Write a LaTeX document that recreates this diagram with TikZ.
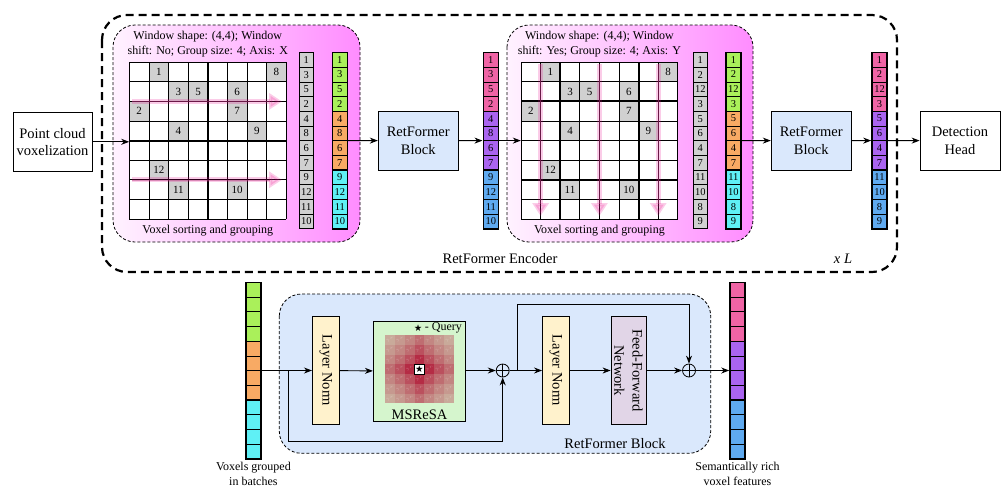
\documentclass[tikz,border=0pt]{standalone}
\usepackage{amssymb}
\usepackage{fontspec}
\setmainfont{Liberation Serif}
\usetikzlibrary{arrows.meta}
\usetikzlibrary{calc}

\definecolor{vgreen}{RGB}{170,240,90}
\definecolor{vorange}{RGB}{248,170,100}
\definecolor{vcyan}{RGB}{95,240,245}
\definecolor{fpink}{RGB}{240,100,165}
\definecolor{fpurple}{RGB}{170,100,240}
\definecolor{fblue}{RGB}{95,170,240}
\definecolor{vgray}{RGB}{208,208,208}
\definecolor{blkblue}{RGB}{218,232,252}
\definecolor{lnyellow}{RGB}{255,242,204}
\definecolor{ffnpurple}{RGB}{225,213,231}
\definecolor{attgreen}{RGB}{213,245,205}
\definecolor{attred}{RGB}{175,0,40}

\newcommand{\fntbig}{\fontsize{14.5}{17.5}\selectfont}
\newcommand{\fntmid}{\fontsize{12}{15.5}\selectfont}
\newcommand{\fntnum}{\fontsize{10.5}{10.5}\selectfont}

% stack of batched voxel features: name, centre x, top y, colours, numbers
\newcommand{\featstack}[5]{%
	\foreach \n [count=\i from 0] in {#5} {
		\pgfmathtruncatemacro\gi{\i/4}
		\pgfmathparse{{#4}[\gi]}\let\cellcol\pgfmathresult
		\node[stackcell, fill=\cellcol] (#1-\i) at (#2,#3+7.35+14.7*\i) {\n};
	}
	\node[stackframe] (#1) at (#2,#3+88.2) {};
	\draw[line width=1.6pt] (#1-3.south west) -- (#1-3.south east);
	\draw[line width=1.6pt] (#1-7.south west) -- (#1-7.south east);
}

\begin{document}
\begin{tikzpicture}[x=1pt, y=-1pt,
	>={Stealth[length=8pt,width=6pt]},
	every node/.style={font=\fntbig},
	flow/.style={->, line width=0.9pt},
	box/.style={draw, line width=0.8pt, minimum width=80, minimum height=59, align=center, inner sep=2},
	stackcell/.style={draw, line width=0.5pt, minimum width=15, minimum height=14.7, inner sep=0, font=\fntnum},
	stackframe/.style={draw, line width=1.6pt, minimum width=15, minimum height=176.4, inner sep=0},
	graycell/.style={draw, line width=0.5pt, fill=vgray, minimum width=14, minimum height=14.67, inner sep=0, font=\fntnum},
	voxcell/.style={fill=vgray, minimum size=19.6, inner sep=0, font=\fontsize{11}{11}\selectfont},
	gridline/.style={line width=0.7pt},
	winline/.style={line width=2pt},
	panel/.style={draw, dash pattern=on 3pt off 2pt, line width=0.8pt, rounded corners=22, left color=magenta!5, right color=magenta!45},
	sortband/.style={draw=magenta, line width=5pt, opacity=0.2, -{Triangle[length=13pt,width=16pt]}},
	sortline/.style={draw=magenta!70!black, line width=0.6pt, opacity=0.45},
	normbox/.style={draw, line width=0.8pt, rotate=-90, minimum width=108.4, minimum height=26.7, inner sep=0, align=center},
	hcell/.style={fill=attred, minimum width=9.86, minimum height=9.76, inner sep=0, text=white, text opacity=0.35, font=\fontsize{5}{5}\selectfont},
	oplus/.style={draw, circle, line width=0.8pt, minimum size=13, inner sep=0,
		path picture={\draw[line width=0.8pt] (path picture bounding box.north) -- (path picture bounding box.south)
			(path picture bounding box.west) -- (path picture bounding box.east);}}
	]
	\useasboundingbox (0,0) rectangle (1006,491);

	% encoder frame
	\draw[line width=2.2pt, dash pattern=on 8pt off 5pt, rounded corners=25] (102,15) rectangle (897,272);
	\node (enclbl) at (500,259) {RetFormer Encoder};
	\node (xl) at (843,259) {\textit{x L}};

	% sorting panels
	\path[panel] (113,25) rectangle (360,242);
	\path[panel] (507,25) rectangle (753,242);

	\foreach \gx/\gn in {129.4/grid1, 521.0/grid2} {
		\node[fill=white, minimum size=156.8, inner sep=0] (\gn) at (\gx+78.4,140.6) {};
		\foreach \cx/\cy/\n in {2/1/1, 8/1/8, 3/2/3, 4/2/5, 6/2/6, 1/3/2, 6/3/7, 3/4/4, 7/4/9, 2/6/12, 3/7/11, 6/7/10}
			\node[voxcell] (\gn-v\n) at (\gx+19.6*\cx-9.8, 62.2+19.6*\cy-9.8) {\n};
		\foreach \k in {0,...,8} {
			\draw[gridline] (\gx+19.6*\k,62.2) -- ++(0,156.8);
			\draw[gridline] (\gx,62.2+19.6*\k) -- ++(156.8,0);
		}
	}
	\draw[winline] (grid1.north) -- (grid1.south);
	\draw[winline] (grid1.west) -- (grid1.east);
	\foreach \k in {2,6} {
		\draw[winline] (521.0+19.6*\k,62.2) -- ++(0,156.8);
		\draw[winline] (521.0,62.2+19.6*\k) -- ++(156.8,0);
	}

	% sorting directions
	\foreach \yy in {101.4,179.8} {
		\draw[sortband] (132,\yy) -- (282,\yy);
		\draw[sortline] (132,\yy) -- (270,\yy);
	}
	\foreach \xx in {540.6,599.4,658.2} {
		\draw[sortband] (\xx,64) -- (\xx,216);
		\draw[sortline] (\xx,64) -- (\xx,204);
	}

	\node[font=\fntmid, align=center] (w1txt) at (207.8,44) {Window shape: (4,4); Window\\shift: No; Group size: 4; Axis: X};
	\node[font=\fntmid, align=center] (w2txt) at (599.4,44) {Window shape: (4,4); Window\\shift: Yes; Group size: 4; Axis: Y};
	\node[font=\fntmid] (w1lbl) at (207.8,231) {Voxel sorting and grouping};
	\node[font=\fntmid] (w2lbl) at (599.4,231) {Voxel sorting and grouping};

	% sorted voxel indices
	\foreach \n [count=\i from 0] in {1,3,5,2,4,8,6,7,9,12,11,10}
		\node[graycell] (gs1-\i) at (306.3,52.6+7.33+14.67*\i) {\n};
	\foreach \n [count=\i from 0] in {1,2,12,3,5,6,4,7,11,10,8,9}
		\node[graycell] (gs2-\i) at (700.3,52.6+7.33+14.67*\i) {\n};

	\featstack{cs1}{339.8}{52.4}{"vgreen","vorange","vcyan"}{1,3,5,2,4,8,6,7,9,12,11,10}
	\featstack{ps1}{490.8}{52.4}{"fpink","fpurple","fblue"}{1,3,5,2,4,8,6,7,9,12,11,10}
	\featstack{cs2}{733.4}{52.4}{"vgreen","vorange","vcyan"}{1,2,12,3,5,6,4,7,11,10,8,9}
	\featstack{ps2}{879.5}{52.4}{"fpink","fpurple","fblue"}{1,2,12,3,5,6,4,7,11,10,8,9}

	\node[box, minimum width=79, minimum height=58.3] (pc) at (52.5,141.8) {Point cloud\\voxelization};
	\node[box, fill=blkblue] (blk1) at (418.2,140.6) {RetFormer\\Block};
	\node[box, fill=blkblue] (blk2) at (811.2,140.6) {RetFormer\\Block};
	\node[box] (det) at (960,140.6) {Detection\\Head};

	\draw[flow] (pc) -- (pc -| grid1.west);
	\draw[flow] (cs1) -- (blk1);
	\draw[flow] (blk1) -- (ps1);
	\draw[flow] (ps1) -- (ps1 -| grid2.west);
	\draw[flow] (cs2) -- (blk2);
	\draw[flow] (blk2) -- (ps2);
	\draw[flow] (ps2) -- (det);

	% RetFormer block in detail
	\draw[dash pattern=on 3pt off 2pt, line width=0.8pt, fill=blkblue, rounded corners=22] (279.3,294) rectangle (710.7,453.3);
	\node (blklbl) at (615,444) {RetFormer Block};

	\featstack{bs1}{253.4}{282.3}{"vgreen","vorange","vcyan"}{{},{},{},{},{},{},{},{},{},{},{},{}}
	\featstack{bs2}{737.5}{282.3}{"fpink","fpurple","fblue"}{{},{},{},{},{},{},{},{},{},{},{},{}}
	\node[font=\fntmid, align=center, anchor=north, inner sep=1.5] (bs1lbl) at ($(bs1.south)+(0,0.5)$) {Voxels grouped\\in batches};
	\node[font=\fntmid, align=center, anchor=north, inner sep=1.5] (bs2lbl) at ($(bs2.south)+(0,0.5)$) {Semantically rich\\voxel features};

	\node[normbox, fill=lnyellow] (ln1) at (325.7,370.5) {Layer Norm};
	\node[draw, line width=0.8pt, fill=attgreen, minimum width=92.4, minimum height=99.3] (msa) at (419.5,371.3) {};
	\foreach \i in {0,...,6}
		\foreach \j in {0,...,6} {
			\pgfmathsetmacro\dd{abs(\i-3)+abs(\j-3)}
			\pgfmathsetmacro\op{max(0.22,0.82^\dd)}
			\node[hcell, fill opacity=\op] (h\i\j) at (389.9+9.86*\i,339.9+9.76*\j) {\ifnum\i\j=33 \else$\gamma^r$\fi};
		}
	\node[draw, fill=white, line width=0.8pt, minimum size=9.5, inner sep=0, font=\fontsize{8}{8}\selectfont] (qry) at (h33) {$\bigstar$};
	\node[font=\fntmid, anchor=north east, inner sep=1] (qlbl) at ($(msa.north east)+(-3,0.5)$) {{\fontsize{8}{8}\selectfont$\bigstar$} - Query};
	\node[anchor=south, inner sep=1] (msalbl) at ($(msa.south)+(0,-1)$) {MSReSA};
	\node[oplus] (op1) at (502.7,370.5) {};
	\node[normbox, fill=lnyellow] (ln2) at (555.8,370.5) {Layer Norm};
	\node[normbox, fill=ffnpurple, minimum height=35, font=\fontsize{14.5}{18.3}\selectfont] (ffn) at (628.5,370.5) {Feed-Forward\\Network};
	\node[oplus] (op2) at (689,370.5) {};

	\coordinate (sk1) at (288.3,370.5);
	\coordinate (sk2) at (517.3,370.5);
	\draw[flow] (bs1) -- (ln1);
	\draw[flow] (sk1) -- ++(0,71.2) -| (op1.south);
	\draw[flow] (ln1) -- (msa);
	\draw[flow] (msa.east |- op1) -- (op1);
	\draw[flow] (op1) -- (ln2);
	\draw[flow] (sk2) -- ++(0,-66.5) -| (op2.north);
	\draw[flow] (ln2) -- (ffn);
	\draw[flow] (ffn) -- (op2);
	\draw[flow] (op2) -- (bs2);
\end{tikzpicture}
\end{document}
